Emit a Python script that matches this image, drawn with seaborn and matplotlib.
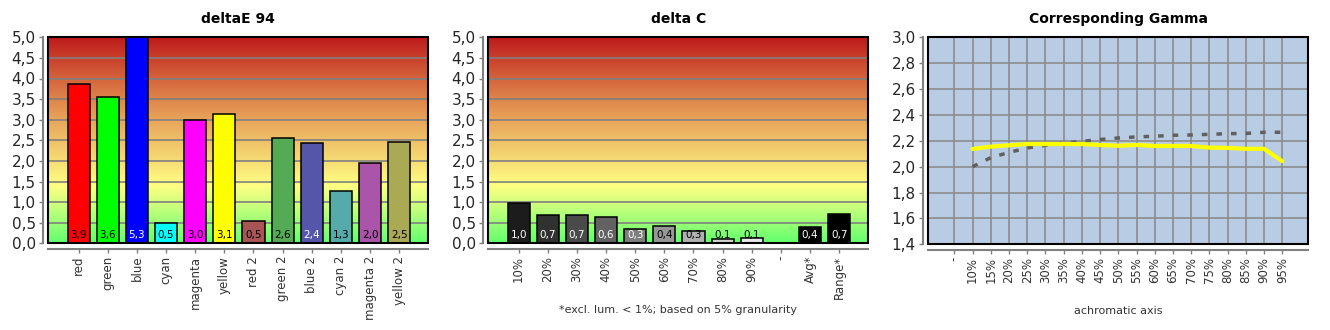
import numpy as np
import pandas as pd
import matplotlib
matplotlib.use("Agg")
import matplotlib.pyplot as plt
from matplotlib.colors import LinearSegmentedColormap
from matplotlib.patches import Rectangle
import seaborn as sns

sns.set_theme(style="white")
plt.rcParams['font.family'] = ['DejaVu Sans']

# ---------------- data ----------------
de_cats = ["red", "green", "blue", "cyan", "magenta", "yellow",
           "red 2", "green 2", "blue 2", "cyan 2", "magenta 2", "yellow 2"]
de_vals = [3.87, 3.55, 5.3, 0.5, 3.0, 3.14, 0.53, 2.56, 2.43, 1.28, 1.96, 2.46]
de_labels = ["3,9", "3,6", "5,3", "0,5", "3,0", "3,1", "0,5", "2,6", "2,4", "1,3", "2,0", "2,5"]
de_colors = ["#FF0000", "#00FF00", "#0000FF", "#00FFFF", "#FF00FF", "#FFFF00",
             "#AA5555", "#55AA55", "#5555AA", "#55AAAA", "#AA55AA", "#AAAA55"]
de_textcol = ["black", "black", "white", "black", "black", "black",
              "black", "black", "white", "black", "black", "black"]

dc_cats = ["10%", "20%", "30%", "40%", "50%", "60%", "70%", "80%", "90%", "-", "Avg*", "Range*"]
dc_vals = [0.98, 0.68, 0.68, 0.63, 0.34, 0.41, 0.30, 0.10, 0.13, np.nan, 0.39, 0.71]
dc_labels = ["1,0", "0,7", "0,7", "0,6", "0,3", "0,4", "0,3", "0,1", "0,1", "", "0,4", "0,7"]
dc_colors = ["#1C1C1C", "#313131", "#4A4A4A", "#626262", "#7E7E7E", "#979797",
             "#B0B0B0", "#D2D2D2", "#E8E8E8", "#FFFFFF", "#000000", "#000000"]
dc_textcol = ["white", "white", "white", "white", "white", "black",
              "black", "black", "black", "black", "white", "white"]

gm_cats = ["-", "10%", "15%", "20%", "25%", "30%", "35%", "40%", "45%", "50%",
           "55%", "60%", "65%", "70%", "75%", "80%", "85%", "90%", "95%"]
gm_measured = [np.nan, 2.137, 2.155, 2.165, 2.175, 2.175, 2.175, 2.175, 2.167, 2.162,
               2.168, 2.160, 2.160, 2.160, 2.147, 2.145, 2.138, 2.138, 2.042]
gm_reference = [np.nan, 2.00, 2.07, 2.11, 2.145, 2.165, 2.183, 2.196, 2.21, 2.222,
                2.23, 2.235, 2.243, 2.245, 2.25, 2.255, 2.257, 2.266, 2.266]

# ---------------- figure ----------------
fig = plt.figure(figsize=(13.3, 3.3), dpi=100)
W, H = 1330, 330

def add_ax(x0, y_top, w, h):
    return fig.add_axes([x0 / W, (H - y_top - h) / H, w / W, h / H])

ax1 = add_ax(48.3, 37.3, 380, 206)
ax2 = add_ax(488.3, 37.3, 380, 206)
ax3 = add_ax(928.3, 37.3, 380, 207)

grad = LinearSegmentedColormap.from_list("grad", [
    (0.0, "#62FF6E"), (0.1, "#9CFF76"), (0.2, "#D6FF7E"), (0.28, "#FFFF82"),
    (0.4, "#F6DC74"), (0.6, "#E8A45A"), (0.8, "#D4643C"), (1.0, "#BE1A1A")], N=1024)

TICKC = "#333333"
AXC = "#808080"

def style_axes(ax, ylim, yticks, fmt):
    ax.set_ylim(*ylim)
    ax.set_yticks(yticks)
    ax.set_yticklabels([fmt(v) for v in yticks], fontsize=9, color=TICKC)
    for s in ["top", "right"]:
        ax.spines[s].set_visible(False)
    for s in ["left", "bottom"]:
        ax.spines[s].set_position(("outward", 4))
        ax.spines[s].set_color(AXC)
        ax.spines[s].set_linewidth(1.5)
    ax.tick_params(axis="both", which="both", length=3, width=1, color=AXC,
                   left=True, bottom=True, pad=2)
    ax.add_patch(Rectangle((0, 0), 1, 1, transform=ax.transAxes, fill=False,
                           edgecolor="black", lw=1.5, zorder=10, clip_on=False))
    ax.set_xlabel("")
    ax.set_ylabel("")

def bar_panel(ax, cats, vals, colors, labels, textcols, title):
    ax.imshow(np.linspace(0, 1, 1024).reshape(-1, 1), cmap=grad, origin="lower",
              aspect="auto", extent=(-1.04, len(cats) - 0.0, 0, 5), zorder=0,
              interpolation="bilinear")
    for v in np.arange(0.5, 5.0, 0.5):
        ax.axhline(v, color="#808080", lw=1.2, zorder=1)
    df = pd.DataFrame({"cat": cats, "val": vals})
    sns.barplot(data=df, x="cat", y="val", hue="cat", palette=colors, legend=False,
                width=0.76, edgecolor="black", linewidth=1.1, saturation=1,
                ax=ax, zorder=3)
    ax.set_xlim(-1.04, len(cats) - 0.0)
    style_axes(ax, (0, 5), np.arange(0, 5.01, 0.5), lambda v: f"{v:.1f}".replace(".", ","))
    ax.set_xticks(range(len(cats)))
    ax.set_xticklabels(cats, rotation=90, fontsize=8.5, color=TICKC)
    for i, (lab, tc) in enumerate(zip(labels, textcols)):
        if lab:
            ax.text(i, 0.07, lab, ha="center", va="bottom", fontsize=7.5, color=tc, zorder=5)
    ax.set_title(title, fontsize=10, fontweight="bold", pad=10, color="black")

bar_panel(ax1, de_cats, de_vals, de_colors, de_labels, de_textcol, "deltaE 94")
bar_panel(ax2, dc_cats, dc_vals, dc_colors, dc_labels, dc_textcol, "delta C")
ax2.text(0.5, -0.30, "*excl. lum. < 1%; based on 5% granularity", transform=ax2.transAxes,
         ha="center", va="top", fontsize=8, color=TICKC)

# gamma panel
ax3.set_facecolor("#B8CCE4")
xs = np.arange(len(gm_cats))
for v in np.arange(1.6, 3.0, 0.2):
    ax3.axhline(v, color="#8C8C8C", lw=1.2, zorder=1)
for x in xs:
    ax3.axvline(x, color="#8C8C8C", lw=1.2, zorder=1)
df3 = pd.DataFrame({"x": xs, "meas": gm_measured, "ref": gm_reference})
sns.lineplot(data=df3, x="x", y="ref", ax=ax3, color="#606060", lw=2.5,
             dashes=False, zorder=3)
ax3.lines[-1].set_linestyle((0, (1.6, 2.6)))
sns.lineplot(data=df3, x="x", y="meas", ax=ax3, color="#FFFF00", lw=3, zorder=4)
ax3.set_xlim(-1.43, len(gm_cats) - 1 + 1.43)
style_axes(ax3, (1.4, 3.0), np.round(np.arange(1.4, 3.01, 0.2), 1),
           lambda v: f"{v:.1f}".replace(".", ","))
ax3.set_xticks(xs)
ax3.set_xticklabels(gm_cats, rotation=90, fontsize=8.5, color=TICKC)
ax3.set_title("Corresponding Gamma", fontsize=10, fontweight="bold", pad=10, color="black")
ax3.text(0.5, -0.30, "achromatic axis", transform=ax3.transAxes,
         ha="center", va="top", fontsize=8, color=TICKC)

fig.savefig("out.png", dpi=100, facecolor="white")
